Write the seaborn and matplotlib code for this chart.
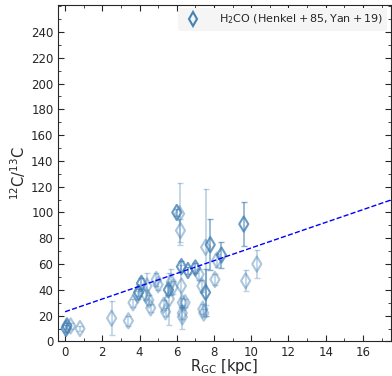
import matplotlib
matplotlib.use("Agg")
import matplotlib.pyplot as plt
from matplotlib.lines import Line2D
from matplotlib.ticker import MultipleLocator
import numpy as np
import pandas as pd
import seaborn as sns

# light points (single measurements)
light_r = [0.3, 0.8, 2.5, 3.4, 3.65, 3.9, 4.4, 4.35, 4.5, 4.6, 4.9, 5.0, 5.3, 5.4, 5.6, 5.7, 5.8,
           6.15, 6.2, 6.25, 6.3, 6.3, 6.45, 6.3, 7.2, 7.35, 7.4, 7.45, 7.55, 8.05, 8.15, 9.7, 10.3]
light_ratio = [12, 10, 18, 16, 30, 36, 43, 36, 32, 26, 48, 44, 28, 23, 33, 46, 42,
               99, 86, 43, 19, 30, 30, 22, 52, 43, 25, 22, 73, 48, 63, 47, 60]
light_err = [2, 2, 13, 4, 3, 3, 10, 4, 4, 3, 5, 4, 4, 3, 20, 10, 5,
             24, 9, 16, 9, 4, 3, 5, 4, 5, 4, 3, 45, 4, 5, 8, 11]

# dark points (overlapping / repeated measurements)
dark_r = [0.05, 0.1, 3.95, 4.1, 5.55, 6.0, 6.25, 6.6, 7.0, 7.55, 7.8, 8.4, 9.6]
dark_ratio = [10, 12, 38, 45, 40, 100, 58, 55, 57, 38, 75, 67, 91]
dark_err = [3, 2, 3, 4, 4, 3, 4, 3, 4, 18, 20, 10, 17]

# linear gradient fit
fit_slope = 4.95
fit_intercept = 23.0
fit_range = [0.0, 17.5]

legend_label = r"$\rm H_2CO\ (Henkel+85, Yan+19)$"
color = "#4682b4"

sns.set_style("ticks")
plt.rcParams.update({
    "font.family": ["DejaVu Sans"],
    "xtick.direction": "in", "ytick.direction": "in",
    "xtick.top": True, "ytick.right": True,
    "xtick.minor.visible": True, "ytick.minor.visible": True,
})

fig = plt.figure(figsize=(3.92, 3.76), dpi=100)
ax = fig.add_axes([0.147, 0.092, 0.85, 0.895])

light = pd.DataFrame({"r": light_r, "ratio": light_ratio, "err": light_err})
dark = pd.DataFrame({"r": dark_r, "ratio": dark_ratio, "err": dark_err})

for df, a in [(light, 0.45), (dark, 0.8)]:
    ax.errorbar(df["r"], df["ratio"], yerr=df["err"], fmt="none", ecolor=color,
                alpha=a * 0.8, elinewidth=1.2, capsize=2.5, capthick=1.0, zorder=2)
    sns.scatterplot(data=df, x="r", y="ratio", marker="d", s=60, facecolor="none",
                    edgecolor=color, linewidth=1.5, alpha=a, ax=ax, zorder=3)

fit = pd.DataFrame({"r": fit_range})
fit["ratio"] = fit_slope * fit["r"] + fit_intercept
sns.lineplot(data=fit, x="r", y="ratio", color="blue", linestyle="--", linewidth=1.0, ax=ax, zorder=4)

ax.set_xlim(-0.4, 17.5)
ax.set_ylim(0, 261)
ax.xaxis.set_major_locator(MultipleLocator(2))
ax.xaxis.set_minor_locator(MultipleLocator(1))
ax.yaxis.set_major_locator(MultipleLocator(20))
ax.yaxis.set_minor_locator(MultipleLocator(10))
ax.tick_params(which="major", length=4, width=0.8, labelsize=8.5, pad=3)
ax.tick_params(which="minor", length=2, width=0.6)
ax.set_yticks(np.arange(0, 241, 20))

ax.set_xlabel(r"R$_{\rm GC}$ [kpc]", fontsize=10.5, labelpad=-1)
ax.set_ylabel(r"$^{12}\rm C/^{13}C$", fontsize=10.5, labelpad=2)

handle = Line2D([], [], marker="d", linestyle="none", markerfacecolor="none",
                markeredgecolor=color, markeredgewidth=1.5, markersize=7)
leg = ax.legend([handle], [legend_label], loc="upper right", fontsize=8,
                frameon=True, facecolor="0.96", edgecolor="none", framealpha=1,
                borderaxespad=0.3, handletextpad=1.3, borderpad=0.4)

fig.savefig("out.png", dpi=100)
